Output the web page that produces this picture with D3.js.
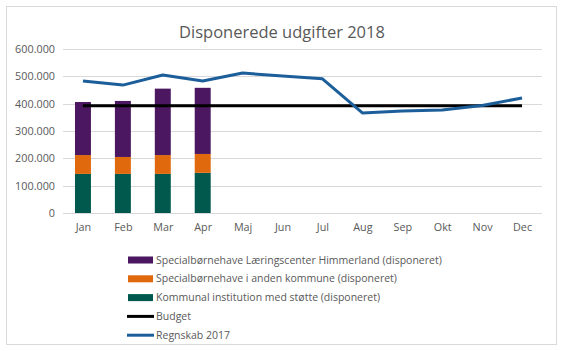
<!DOCTYPE html>
<html>
<head>
<meta charset="utf-8">
<script src="https://cdn.jsdelivr.net/npm/d3@7"></script>
<style>
  body { margin: 0; background: #fff; }
  text { font-family: "Open Sans", "Liberation Sans", sans-serif; fill: #595959; }
</style>
</head>
<body>
<div id="chart"></div>
<script>
// Data
var months = ["Jan", "Feb", "Mar", "Apr", "Maj", "Jun", "Jul", "Aug", "Sep", "Okt", "Nov", "Dec"];
var kommunal = [143000, 143000, 143000, 147000];
var andenKommune = [69000, 62000, 69000, 69000];
var himmerland = [194000, 205000, 243000, 242000];
var budget = [392000, 392000, 392000, 392000, 392000, 392000, 392000, 392000, 392000, 392000, 392000, 392000];
var regnskab2017 = [483000, 468000, 505000, 483000, 512000, 501000, 491000, 366000, 373000, 377000, 393000, 421000];
var yTicks = [0, 100000, 200000, 300000, 400000, 500000, 600000];

var seriesNames = [
    "Kommunal institution med støtte (disponeret)",
    "Specialbørnehave i anden kommune (disponeret)",
    "Specialbørnehave Læringscenter Himmerland (disponeret)"
];
var seriesColors = ["#00594c", "#e0690d", "#4b1760"];

var W = 564, H = 351;
var margin = { top: 49, right: 22, bottom: 138, left: 63 };
var width = W - margin.left - margin.right;
var height = H - margin.top - margin.bottom;

var svg = d3.select("#chart").append("svg")
    .attr("width", W)
    .attr("height", H);

// ramme
svg.append("rect")
    .attr("x", 6.5).attr("y", 6.5)
    .attr("width", 550).attr("height", 338)
    .attr("fill", "#fff")
    .attr("stroke", "#d9d9d9");

svg.append("text")
    .attr("x", W / 2)
    .attr("y", 38)
    .attr("text-anchor", "middle")
    .style("font-size", "16.5px")
    .text("Disponerede udgifter 2018");

var g = svg.append("g")
    .attr("transform", "translate(" + margin.left + "," + margin.top + ")");

var x = d3.scaleBand().domain(months).range([0, width]).paddingInner(0.6).paddingOuter(0.3);
var xc = d3.scalePoint().domain(months).range([0, width]).padding(0.5);
var y = d3.scaleLinear().domain([0, 600000]).range([height, 0]);

var fmt = function(d) { return d === 0 ? "0" : d3.format(",")(d).replace(/,/g, "."); };

// gridlinjer
g.append("g")
    .selectAll("line")
    .data(yTicks)
    .enter().append("line")
    .attr("x1", 0).attr("x2", width)
    .attr("y1", function(d) { return Math.round(y(d)) + 0.5; })
    .attr("y2", function(d) { return Math.round(y(d)) + 0.5; })
    .attr("stroke", "#d9d9d9");

var yAxis = g.append("g")
    .call(d3.axisLeft(y).tickValues(yTicks).tickFormat(fmt).tickSize(0).tickPadding(8));
yAxis.select(".domain").remove();
yAxis.selectAll("text").style("font-size", "10.8px").attr("fill", "#595959");

var xAxis = g.append("g")
    .attr("transform", "translate(0," + height + ")")
    .call(d3.axisBottom(xc).tickSize(0).tickPadding(10));
xAxis.select(".domain").remove();
xAxis.selectAll("text").style("font-size", "10.8px").attr("fill", "#595959");

// stablede soejler
var rows = kommunal.map(function(v, i) {
    return { month: months[i], s0: kommunal[i], s1: andenKommune[i], s2: himmerland[i] };
});
var stack = d3.stack().keys(["s0", "s1", "s2"])(rows);

g.selectAll(".layer")
    .data(stack)
    .enter().append("g")
    .attr("fill", function(d, i) { return seriesColors[i]; })
    .selectAll("rect")
    .data(function(d) { return d; })
    .enter().append("rect")
    .attr("x", function(d) { return x(d.data.month); })
    .attr("width", x.bandwidth())
    .attr("y", function(d) { return y(d[1]); })
    .attr("height", function(d) { return y(d[0]) - y(d[1]); });

var line = d3.line()
    .x(function(d, i) { return xc(months[i]); })
    .y(function(d) { return y(d); });

g.append("path")
    .datum(budget)
    .attr("fill", "none")
    .attr("stroke", "#000")
    .attr("stroke-width", 3)
    .attr("d", line);

g.append("path")
    .datum(regnskab2017)
    .attr("fill", "none")
    .attr("stroke", "#1c5e9a")
    .attr("stroke-width", 3)
    .attr("stroke-linejoin", "round")
    .attr("d", line);

// legende
var legendItems = [
    { name: seriesNames[2], color: seriesColors[2], type: "rect" },
    { name: seriesNames[1], color: seriesColors[1], type: "rect" },
    { name: seriesNames[0], color: seriesColors[0], type: "rect" },
    { name: "Budget", color: "#000", type: "line" },
    { name: "Regnskab 2017", color: "#1c5e9a", type: "line" }
];

var legend = svg.append("g").attr("transform", "translate(128,260)");
var li = legend.selectAll("g")
    .data(legendItems)
    .enter().append("g")
    .attr("transform", function(d, i) { return "translate(0," + (i * 18.8) + ")"; });

li.filter(function(d) { return d.type === "rect"; })
    .append("rect")
    .attr("x", 0).attr("y", -3.5)
    .attr("width", 25).attr("height", 7)
    .attr("fill", function(d) { return d.color; });

li.filter(function(d) { return d.type === "line"; })
    .append("line")
    .attr("x1", -1).attr("x2", 26)
    .attr("y1", 0).attr("y2", 0)
    .attr("stroke", function(d) { return d.color; })
    .attr("stroke-width", 3);

li.append("text")
    .attr("x", 28)
    .attr("dy", "0.35em")
    .style("font-size", "10.5px")
    .text(function(d) { return d.name; });
</script>
</body>
</html>
